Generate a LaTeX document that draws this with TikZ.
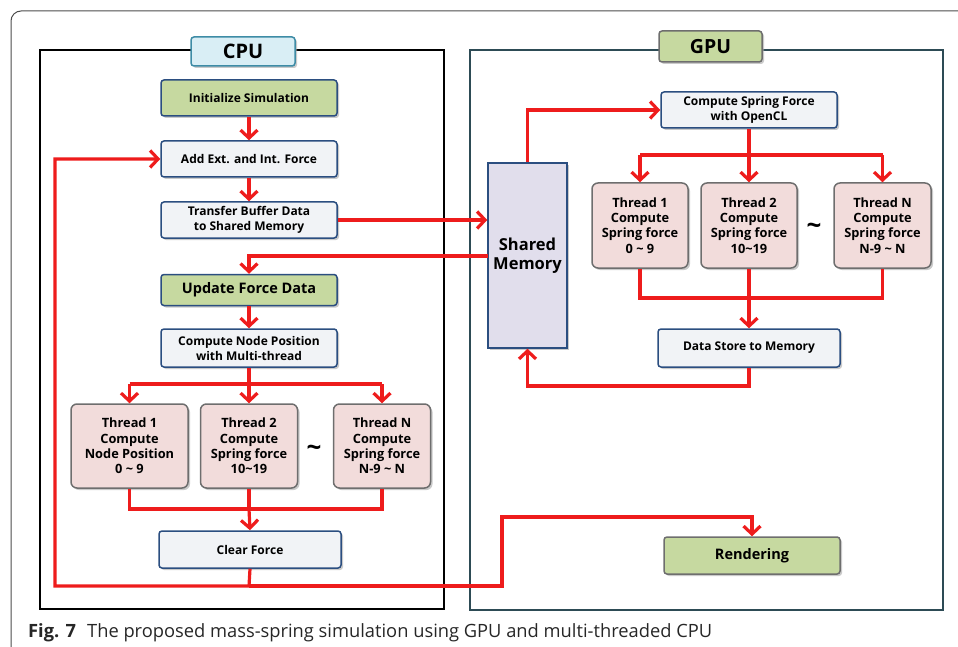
\documentclass[tikz,border=0pt]{standalone}
\usepackage{fontspec}
\setmainfont{Open Sans}
\usetikzlibrary{arrows.meta,shadows,calc}
\definecolor{arrowred}{HTML}{EE1C1C}
\definecolor{boxblue}{HTML}{2B4E80}
\definecolor{boxgray}{HTML}{6E6E6E}
\definecolor{fillgreen}{HTML}{C6D9A0}
\definecolor{fillpink}{HTML}{F2DCDB}
\definecolor{fillwhite}{HTML}{F1F3F6}
\definecolor{filllav}{HTML}{E1DEEC}
\definecolor{filllblue}{HTML}{D9EEF5}
\definecolor{cpulblue}{HTML}{3E8CA6}
\definecolor{gpuframe}{HTML}{2D4B55}
\tikzset{
  x=1pt,y=-1pt,
  basebox/.style={rectangle, rounded corners=3pt, line width=1.5pt, align=center, inner sep=1pt,
     font=\fontsize{12}{15}\selectfont\bfseries,
     drop shadow={shadow xshift=2pt, shadow yshift=-2pt, fill=black!35, opacity=0.6}},
  whitebox/.style={basebox, draw=boxblue, fill=fillwhite},
  greenbox/.style={basebox, draw=boxblue, fill=fillgreen},
  greengray/.style={basebox, draw=boxgray, fill=fillgreen},
  threadbox/.style={basebox, draw=boxgray, fill=fillpink, rounded corners=6pt, font=\fontsize{12.8}{15.3}\selectfont\bfseries},
  conn/.style={draw=arrowred, line width=3.2pt},
  arr/.style={conn, -{Straight Barb[length=8pt,width=17pt,line width=3.2pt]}},
}
\begin{document}
\begin{tikzpicture}
\useasboundingbox (0,0) rectangle (958,647);
% outer frame
\draw[black!70, line width=1pt, rounded corners=10pt] (11,647) -- (11,11) -- (970,11);
% CPU and GPU frames
\draw[black, line width=2.2pt] (40,50) rectangle (444,609);
\draw[gpuframe, line width=2.2pt] (470,50) rectangle (943,610);
\node[basebox, draw=cpulblue, fill=filllblue, minimum width=104pt, minimum height=29pt, font=\fontsize{20}{22}\selectfont\bfseries] (cpu) at (243,51.5) {CPU};
\node[greengray, minimum width=103pt, minimum height=31pt, font=\fontsize{19.5}{22}\selectfont\bfseries] (gpu) at (710.5,46.5) {GPU};
% CPU nodes
\node[greenbox, minimum width=176pt, minimum height=36pt] (init) at (249,98) {Initialize Simulation};
\node[whitebox, minimum width=176pt, minimum height=36pt] (add) at (249,159) {Add Ext. and Int. Force};
\node[whitebox, minimum width=176pt, minimum height=36pt] (transfer) at (249,220) {Transfer Buffer Data\\to Shared Memory};
\node[greenbox, minimum width=176pt, minimum height=31pt, font=\fontsize{14.5}{17}\selectfont\bfseries] (update) at (249,290) {Update Force Data};
\node[whitebox, minimum width=176pt, minimum height=38pt] (cnp) at (249,348) {Compute Node Position\\with Multi-thread};
\node[threadbox, minimum width=117pt, minimum height=84pt] (t1) at (129.5,446) {Thread 1\\Compute\\Node Position\\0 \textasciitilde\ 9};
\node[threadbox, minimum width=97pt, minimum height=84pt] (t2) at (249,446) {Thread 2\\Compute\\Spring force\\10\textasciitilde 19};
\node[threadbox, minimum width=97pt, minimum height=84pt] (tn) at (382,446) {Thread N\\Compute\\Spring force\\N-9 \textasciitilde\ N};
\node[font=\fontsize{26}{26}\selectfont\bfseries] (tildecpu) at (314,451) {\textasciitilde};
\node[whitebox, minimum width=182pt, minimum height=37pt] (clear) at (250,549.5) {Clear Force};
% shared memory
\node[basebox, rounded corners=0pt, draw=boxblue, fill=filllav, minimum width=79pt, minimum height=185pt, font=\fontsize{16.5}{19}\selectfont\bfseries] (shared) at (527.5,255.5) {Shared\\Memory};
% GPU nodes
\node[whitebox, minimum width=176pt, minimum height=36pt] (csf) at (749,110) {Compute Spring Force\\with OpenCL};
\node[threadbox, minimum width=96pt, minimum height=85pt] (g1) at (640,225.5) {Thread 1\\Compute\\Spring force\\0 \textasciitilde\ 9};
\node[threadbox, minimum width=96pt, minimum height=85pt] (g2) at (749,225.5) {Thread 2\\Compute\\Spring force\\10\textasciitilde 19};
\node[threadbox, minimum width=97pt, minimum height=85pt] (gn) at (882.5,225.5) {Thread N\\Compute\\Spring force\\N-9 \textasciitilde\ N};
\node[font=\fontsize{26}{26}\selectfont\bfseries] (tildegpu) at (814,229) {\textasciitilde};
\node[whitebox, minimum width=182pt, minimum height=38pt] (ds) at (749,348) {Data Store to Memory};
\node[greengray, minimum width=176pt, minimum height=37pt, font=\fontsize{14.5}{17}\selectfont\bfseries] (rend) at (752,555.5) {Rendering};
% coordinates
\coordinate (cpusplit) at (249,384);
\coordinate (cpumerge) at (249,509);
\coordinate (loopb) at (249,586);
\coordinate (loopl) at (55,586);
\coordinate (loopt) at (55,159);
\coordinate (rendA) at (502,586);
\coordinate (rendB) at (502,517);
\coordinate (smout) at (488,256);
\coordinate (gpusplit) at (749,155);
\coordinate (gpumerge) at (749,298);
\coordinate (dsb) at (749,386);
% CPU connectors
\draw[arr] (init) -- (add);
\draw[arr] (add) -- (transfer);
\draw[arr] (transfer.east) -- (transfer.east -| shared.west);
\draw[arr] (smout) -| (update.north);
\draw[arr] (update) -- (cnp);
\draw[conn] (cnp.south) -- (cpusplit);
\draw[conn] (cpusplit -| t1.north) -- (cpusplit -| tn.north);
\draw[arr] (cpusplit -| t1.north) -- (t1.north);
\draw[arr] (cpusplit) -- (t2.north);
\draw[arr] (cpusplit -| tn.north) -- (tn.north);
\draw[conn] (t1.south) -- (cpumerge -| t1.south) -- (cpumerge -| tn.south) -- (tn.south);
\draw[conn] (t2.south) -- (cpumerge);
\draw[arr] (cpumerge) -- (clear.north);
\draw[arr] (clear.south) -- (loopb) -- (loopl) -- (loopt) -- (add.west);
\draw[arr] (loopb) -- (rendA) -- (rendB) -| (rend.north);
% GPU connectors
\draw[arr] (shared.north) |- (csf.west);
\draw[conn] (csf.south) -- (gpusplit);
\draw[conn] (gpusplit -| g1.north) -- (gpusplit -| gn.north);
\draw[arr] (gpusplit -| g1.north) -- (g1.north);
\draw[arr] (gpusplit) -- (g2.north);
\draw[arr] (gpusplit -| gn.north) -- (gn.north);
\draw[conn] (g1.south) -- (gpumerge -| g1.south) -- (gpumerge -| gn.south) -- (gn.south);
\draw[conn] (g2.south) -- (gpumerge);
\draw[arr] (gpumerge) -- (ds.north);
\draw[arr] (ds.south) -- (dsb) -| (shared.south);
% caption
\node[anchor=base west, inner sep=0pt, font=\fontsize{18.3}{20}\selectfont, text=black!85] (caption) at (28,637) {\textbf{Fig. 7}\hspace{0.6em}The proposed mass-spring simulation using GPU and multi-threaded CPU};
\end{tikzpicture}
\end{document}
